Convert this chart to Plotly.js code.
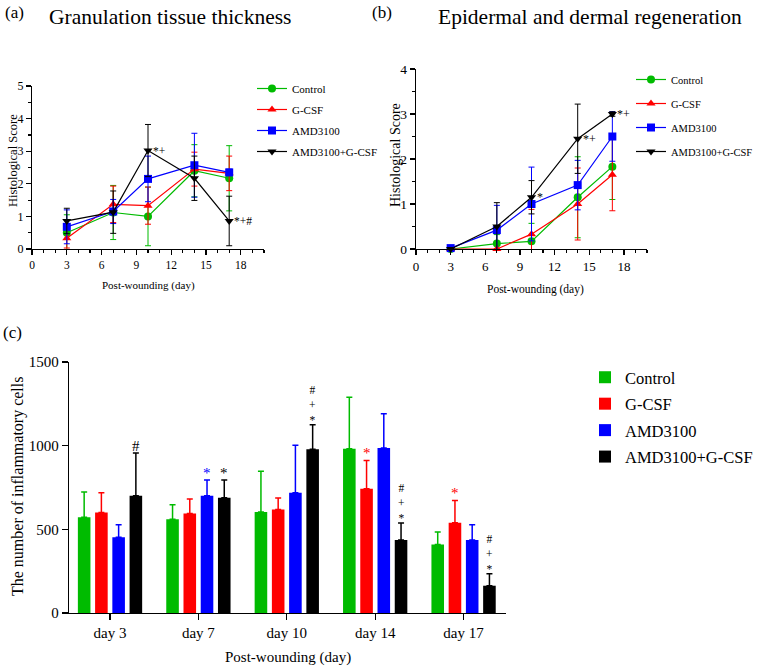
<!DOCTYPE html>
<html>
<head>
<meta charset="utf-8">
<script src="https://cdn.plot.ly/plotly-3.0.1.min.js"></script>
<style>html,body{margin:0;padding:0;background:#fff;}#chart{width:758px;height:668px;}</style>
</head>
<body>
<div id="chart"></div>
<script>
// ---------- data ----------
const groups = ['Control', 'G-CSF', 'AMD3100', 'AMD3100+G-CSF'];
const days = [3, 7, 10, 14, 17];
const dayLabels = ['day 3', 'day 7', 'day 10', 'day 14', 'day 17'];

// (a) Granulation tissue thickness
const gttControl = [0.50, 1.12, 1.00, 2.40, 2.17];
const gttControlErr = [0.55, 0.83, 0.90, 0.80, 1.00];
const gttGcsf = [0.33, 1.37, 1.33, 2.45, 2.32];
const gttGcsfErr = [0.30, 0.56, 0.57, 0.52, 0.53];
const gttAmd = [0.68, 1.15, 2.15, 2.57, 2.35];
const gttAmdErr = [0.52, 0.37, 0.70, 0.98, 0.10];
const gttCombo = [0.86, 1.13, 3.02, 2.17, 0.86];
const gttComboErr = [0.39, 0.65, 0.80, 0.68, 0.76];
const gttComboSig = ['', '', '*+', '', '*+#'];

// (b) Epidermal and dermal regeneration
const edrControl = [0.00, 0.12, 0.17, 1.15, 1.83];
const edrControlErr = [0.00, 0.20, 0.40, 0.90, 0.73];
const edrGcsf = [0.00, 0.00, 0.33, 1.00, 1.65];
const edrGcsfErr = [0.00, 0.00, 0.55, 0.80, 0.80];
const edrAmd = [0.02, 0.42, 1.00, 1.42, 2.50];
const edrAmdErr = [0.00, 0.55, 0.82, 0.55, 0.55];
const edrCombo = [0.00, 0.50, 1.15, 2.45, 3.00];
const edrComboErr = [0.00, 0.53, 0.37, 0.77, 0.05];
const edrComboSig = ['', '', '*', '*+', '*+'];

// (c) number of inflammatory cells
const infControl = [572, 560, 603, 982, 410];
const infControlErr = [151, 87, 244, 307, 74];
const infGcsf = [601, 594, 618, 743, 540];
const infGcsfErr = [118, 87, 69, 169, 133];
const infAmd = [452, 701, 719, 986, 436];
const infAmdErr = [76, 94, 284, 205, 92];
const infCombo = [701, 689, 978, 436, 163];
const infComboErr = [255, 106, 147, 102, 72];
const infSig = [
  ['', '', '', '', ''],
  ['', '', '', '*', '*'],
  ['', '*', '', '', ''],
  ['#', '*', '*+#', '*+#', '*+#']
];

// ---------- style ----------
const colors = ['#00bb00', '#ff0000', '#0000ff', '#000000'];
const symbols = ['circle', 'triangle-up', 'square', 'triangle-down'];
const FONT = 'Liberation Serif';
const W = 758, H = 668;
const px = v => v / W;
const py = v => 1 - v / H;

const traces = [];
const gtt = [[gttControl, gttControlErr], [gttGcsf, gttGcsfErr], [gttAmd, gttAmdErr], [gttCombo, gttComboErr]];
const edr = [[edrControl, edrControlErr], [edrGcsf, edrGcsfErr], [edrAmd, edrAmdErr], [edrCombo, edrComboErr]];
const inf = [[infControl, infControlErr], [infGcsf, infGcsfErr], [infAmd, infAmdErr], [infCombo, infComboErr]];

function lineTrace(g, vals, errs, xa, ya, leg) {
  return {
    type: 'scatter', mode: 'lines+markers', name: groups[g],
    x: days, y: vals, xaxis: xa, yaxis: ya, legend: leg, legendgroup: leg + g,
    cliponaxis: false,
    line: {color: colors[g], width: 1.2},
    marker: {color: colors[g], symbol: symbols[g], size: 8},
    error_y: {type: 'data', array: errs, visible: true, color: colors[g], thickness: 1, width: 3}
  };
}
gtt.forEach((d, g) => traces.push(lineTrace(g, d[0], d[1], 'x', 'y', 'legend')));
edr.forEach((d, g) => traces.push(lineTrace(g, d[0], d[1], 'x2', 'y2', 'legend2')));

const BARGAP = 0.22;
inf.forEach((d, g) => traces.push({
  type: 'bar', name: groups[g], x: dayLabels, y: d[0], xaxis: 'x3', yaxis: 'y3',
  legend: 'legend3', legendgroup: 'c' + g,
  marker: {color: colors[g], line: {width: 0}},
  error_y: {type: 'data', symmetric: false, array: d[1], arrayminus: d[1].map(() => 0),
            color: colors[g], thickness: 1.5, width: 3}
}));

// ---------- annotations ----------
const ann = [];
function txt(x, y, text, size, extra) {
  ann.push(Object.assign({xref: 'paper', yref: 'paper', x: px(x), y: py(y), text: text, showarrow: false,
    xanchor: 'center', yanchor: 'middle',
    font: {family: FONT, size: size, color: '#000'}}, extra || {}));
}
txt(3, 12, '(a)', 17, {xanchor: 'left'});
txt(170, 17, 'Granulation tissue thickness', 21.5);
txt(370, 12, '(b)', 17, {xanchor: 'left'});
txt(590, 17, 'Epidermal and dermal regeneration', 21.5);
txt(1, 332, '(c)', 17, {xanchor: 'left'});
// axis titles
txt(13, 161, 'Histological Score', 12.5, {textangle: -90});
txt(148, 285, 'Post-wounding (day)', 11);
txt(396, 155, 'Histological Score', 14, {textangle: -90});
txt(535, 289, 'Post-wounding (day)', 11.5);
txt(18, 487, 'The number of inflammatory cells', 16, {textangle: -90});
txt(288, 657, 'Post-wounding (day)', 15);

gttComboSig.forEach((s, i) => { if (s) ann.push({xref: 'x', yref: 'y', x: days[i], y: gttCombo[i], text: s,
  showarrow: false, xanchor: 'left', xshift: 3, font: {family: FONT, size: 11.5, color: '#000'}}); });
edrComboSig.forEach((s, i) => { if (s) ann.push({xref: 'x2', yref: 'y2', x: days[i], y: edrCombo[i], text: s,
  showarrow: false, xanchor: 'left', xshift: 3, font: {family: FONT, size: 12, color: '#000'}}); });

// significance marks above bars: stacked bottom-to-top as listed
const slot = (1 - BARGAP) / groups.length;
infSig.forEach((row, g) => row.forEach((s, i) => {
  if (!s) return;
  const top = inf[g][0][i] + inf[g][1][i];
  ann.push({
    xref: 'x3', yref: 'y3', x: i + (g - 1.5) * slot, y: top,
    text: s.split('').reverse().join('<br>'), showarrow: false,
    yanchor: 'bottom', yshift: -2, borderpad: 0,
    font: {family: FONT, size: s.length > 1 ? 11.5 : 15, color: g === 3 ? '#000' : colors[g]}
  });
}));

// ---------- axes ----------
const axBase = {
  showline: true, linecolor: '#000', linewidth: 1.2, showgrid: false, zeroline: false,
  ticks: 'outside', ticklen: 5, tickcolor: '#000', tickwidth: 1.2,
  tickfont: {family: FONT, size: 12, color: '#000'}
};
const minorX = {dtick: 1, ticklen: 3, tickcolor: '#000', ticks: 'outside'};
const minorY = {dtick: 0.5, ticklen: 3, tickcolor: '#000', ticks: 'outside'};
const tf = s => ({family: FONT, size: s, color: '#000'});
const layout = {
  width: W, height: H, margin: {l: 0, r: 0, t: 0, b: 0},
  paper_bgcolor: '#fff', plot_bgcolor: '#fff', showlegend: true,
  font: {family: FONT, color: '#000'},
  barmode: 'group', bargap: BARGAP, bargroupgap: 0.27,
  xaxis: Object.assign({}, axBase, {domain: [px(32), px(264)], range: [0, 20], anchor: 'y',
    tickvals: [0, 3, 6, 9, 12, 15, 18], minor: minorX, tickfont: tf(11.5)}),
  yaxis: Object.assign({}, axBase, {domain: [py(249), py(86)], range: [0, 5], anchor: 'x', dtick: 1,
    minor: minorY, tickfont: tf(12)}),
  xaxis2: Object.assign({}, axBase, {domain: [px(416), px(647)], range: [0, 20], anchor: 'y2',
    tickvals: [0, 3, 6, 9, 12, 15, 18], minor: minorX, tickfont: tf(13)}),
  yaxis2: Object.assign({}, axBase, {domain: [py(249), py(69)], range: [0, 4], anchor: 'x2', dtick: 1,
    minor: minorY, tickfont: tf(13.5)}),
  xaxis3: Object.assign({}, axBase, {domain: [px(69), px(506)], range: [-0.464, 4.48], anchor: 'y3',
    type: 'category', ticklen: 6, tickfont: tf(15)}),
  yaxis3: Object.assign({}, axBase, {domain: [py(613), py(362)], range: [0, 1500], anchor: 'x3',
    tickvals: [0, 500, 1000, 1500], ticklen: 6, tickfont: tf(15)}),
  legend: {x: px(252), y: py(74), xanchor: 'left', yanchor: 'top', bgcolor: 'rgba(0,0,0,0)',
    font: tf(11), tracegroupgap: 2},
  legend2: {x: 1, y: py(65), xanchor: 'right', yanchor: 'top', bgcolor: 'rgba(0,0,0,0)',
    font: tf(10.5), tracegroupgap: 5},
  legend3: {x: 1, y: py(360), xanchor: 'right', yanchor: 'top', bgcolor: 'rgba(0,0,0,0)',
    font: tf(16.5), tracegroupgap: 2},
  annotations: ann
};

Plotly.newPlot('chart', traces, layout, {displayModeBar: false, staticPlot: true});
</script>
</body>
</html>
